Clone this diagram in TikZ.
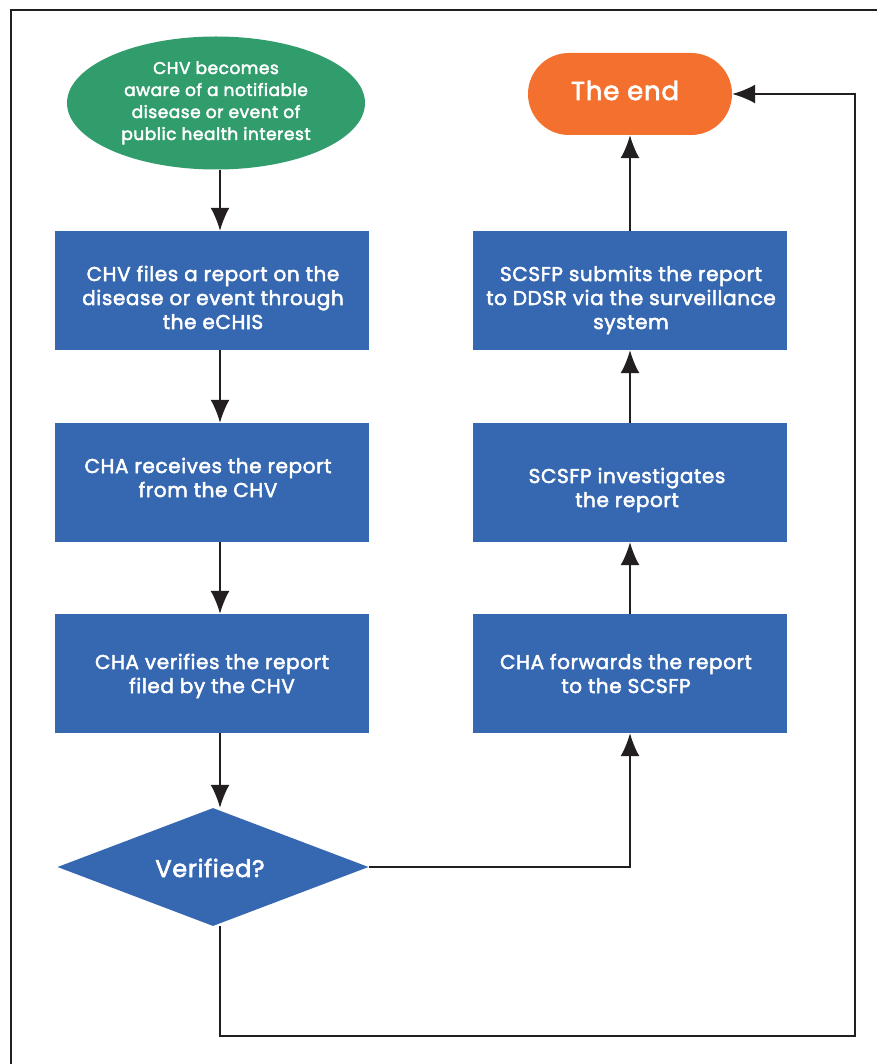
\documentclass[tikz,border=0pt]{standalone}
\usepackage{fontspec}
\setmainfont{Poppins}
\newfontfamily\labelfont{Poppins}[FakeBold=2.5, LetterSpace=3]
\usetikzlibrary{shapes.geometric,shapes.misc,arrows.meta}
\definecolor{stepblue}{HTML}{3667B1}
\definecolor{startgreen}{HTML}{329D6C}
\definecolor{endorange}{HTML}{F3702E}
\definecolor{ink}{HTML}{231F20}
% centred block of lines whose baseline is that of its first line
\newcommand\blocklines[1]{\parbox[t]{330pt}{\centering #1}}
\begin{document}
\begin{tikzpicture}[x=1pt,y=-1pt,
  stepbox/.style={rectangle, fill=stepblue, minimum width=314pt,
    minimum height=119pt, inner sep=0pt},
  steptext/.style={anchor=base, inner sep=0pt, text=white,
    font=\labelfont\fontsize{20}{24}\selectfont},
  arr/.style={draw=ink, line width=1.8pt, -{Latex[length=23pt,width=19pt]}}]
\useasboundingbox (0,0) rectangle (876,1064);
\fill[white] (0,0) rectangle (876,1064);
% outer frame
\draw[ink, line width=2pt] (11,1070) -- (11,10) -- (890,10);

% shapes of the left column
\node[ellipse, fill=startgreen, minimum width=298pt, minimum height=133pt,
  inner sep=0pt] (start) at (216,103) {};
\node[stepbox] (b1) at (212,290.5) {};
\node[stepbox] (b2) at (212,482.5) {};
\node[stepbox] (b3) at (212,673.5) {};
\node[diamond, fill=stepblue, minimum width=311pt, minimum height=118pt,
  aspect=2.64, inner sep=0pt] (ver) at (213,867) {};

% shapes of the right column
\node[stepbox] (r3) at (630,673.5) {};
\node[stepbox] (r2) at (630,482.5) {};
\node[stepbox] (r1) at (630,290.5) {};
\node[rounded rectangle, fill=endorange, minimum width=204pt,
  minimum height=82pt, inner sep=0pt] (theend) at (630,94) {};

% texts
\node[steptext, font=\labelfont\fontsize{17}{22}\selectfont] (startt) at (216,74)
  {\blocklines{CHV becomes\\aware of a notifiable\\disease or event of\\public health interest}};
\node[steptext] (b1t) at (213,281) {\blocklines{CHV files a report on the\\disease or event through\\the eCHIS}};
\node[steptext] (b2t) at (208,473) {\blocklines{CHA receives the report\\from the CHV}};
\node[steptext] (b3t) at (212,669) {\blocklines{CHA verifies the report\\filed by the CHV}};
\node[steptext] (r1t) at (631,281) {\blocklines{SCSFP submits the report\\to DDSR via the surveillance\\system}};
\node[steptext] (r2t) at (627,483) {\blocklines{SCSFP investigates\\the report}};
\node[steptext] (r3t) at (626,669) {\blocklines{CHA forwards the report\\to the SCSFP}};
\node[steptext, font=\labelfont\fontsize{26}{30}\selectfont] (endt) at (625,100) {The end};
\node[steptext, font=\labelfont\fontsize{24}{28}\selectfont] (vert) at (210,877) {Verified?};

% connectors
\coordinate (lc) at (220,0);
\coordinate (loop) at (855,1036);
\draw[arr] (start.south -| lc) -- (b1.north -| lc);
\draw[arr] (b1.south -| lc) -- (b2.north -| lc);
\draw[arr] (b2.south -| lc) -- (b3.north -| lc);
\draw[arr] (b3.south -| lc) -- (ver.north -| lc);
\draw[arr] (ver.east) -| (r3.south);
\draw[arr] (r3.north) -- (r2.south);
\draw[arr] (r2.north) -- (r1.south);
\draw[arr] (r1.north) -- (theend.south);
\draw[arr] (ver.south -| lc) |- (loop) |- (theend.east);
\end{tikzpicture}
\end{document}
